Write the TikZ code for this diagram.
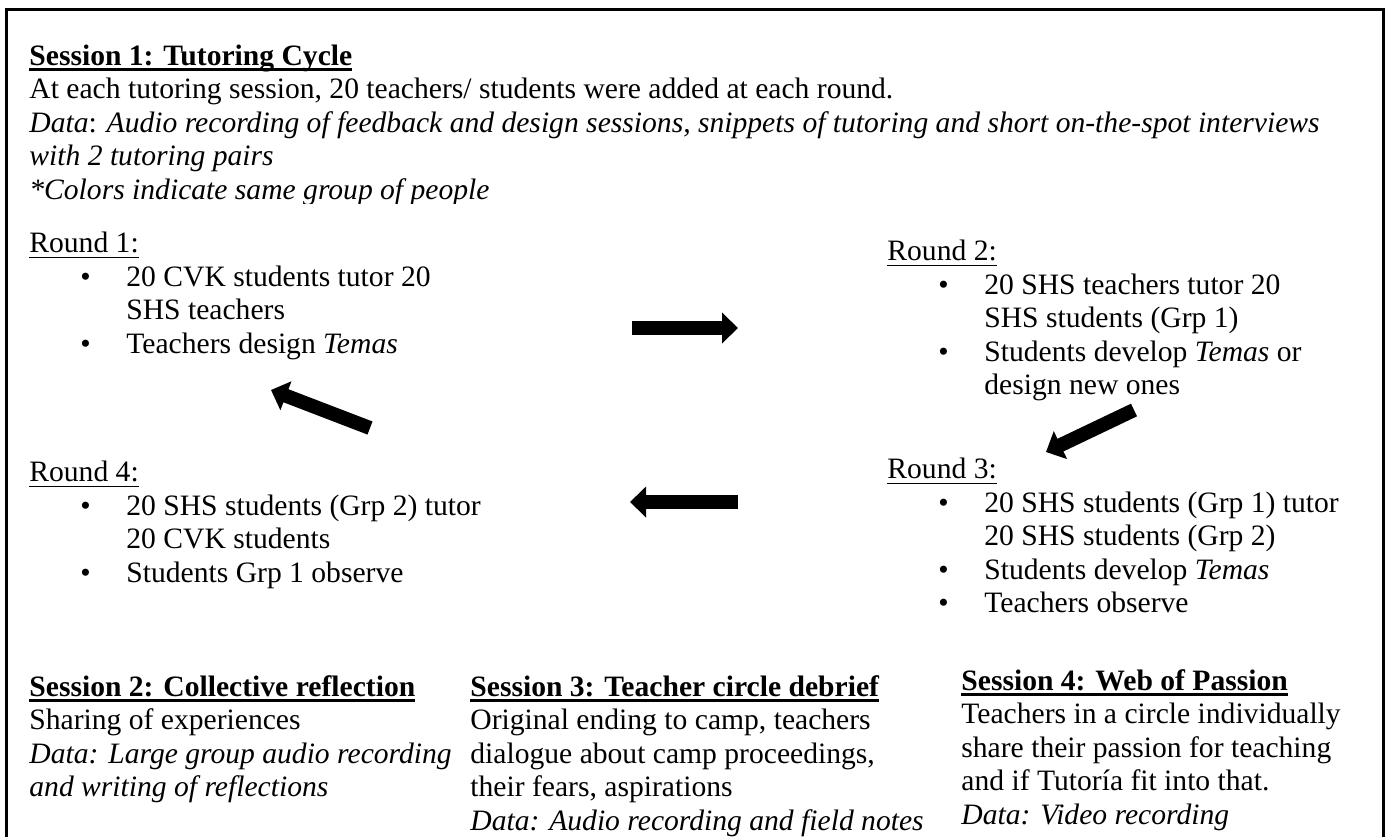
\documentclass[tikz,border=0pt]{standalone}
\usepackage{fontspec}
\setmainfont{Liberation Serif}
\usetikzlibrary{arrows.meta}
\newsavebox\ulbox
\newcommand\txtsize{\fontsize{14.8pt}{16.75pt}\selectfont}
\newcommand\ulx[2]{\sbox\ulbox{#2}\rlap{\rule[-2.8pt]{\wd\ulbox}{#1}}\usebox\ulbox}
\newcommand\hd[1]{\ulx{1.2pt}{\bfseries #1}}
\tikzset{
  txt/.style={anchor=base west, inner sep=0pt, align=left, font=\txtsize},
  fatarrow/.style={line width=7pt, -{Triangle[length=8pt,width=15pt]}}
}
\begin{document}
\begin{tikzpicture}[x=0.5pt,y=-0.5pt]
    \useasboundingbox (0,0) rectangle (1385,837);
    %Frame
    \draw[line width=1.5pt] (6,837) -- (6,9.5) -- (1383,9.5) -- (1383,837);
    %Session 1 (node sits on its last line)
    \begin{scope}
    \clip (0,0) rectangle (1385,203);
    \node[txt] (s1) at (29,199) {\hd{Session 1: Tutoring Cycle}\\
      At each tutoring session, 20 teachers/ students were added at each round.\\
      \textit{Data}: \textit{Audio recording of feedback and design sessions, snippets of tutoring and short on-the-spot interviews}\\
      \textit{with 2 tutoring pairs}\\
      \textit{*Colors indicate same group of people}};
    \end{scope}
    %Round 1
    \node[txt] (r1) at (29,252) {\ulx{0.5pt}{Round 1:}};
    \node[txt] (r1b1) at (80,286) {\textbullet};
    \node[txt] (r1i1) at (126,319.5) {20 CVK students tutor 20\\SHS teachers};
    \node[txt] (r1b2) at (80,353) {\textbullet};
    \node[txt] (r1i2) at (126,353) {Teachers design \textit{Temas}};
    %Round 2
    \node[txt] (r2) at (887,260) {\ulx{0.5pt}{Round 2:}};
    \node[txt] (r2b1) at (938,294) {\textbullet};
    \node[txt] (r2i1) at (984,327.5) {20 SHS teachers tutor 20\\SHS students (Grp 1)};
    \node[txt] (r2b2) at (938,361) {\textbullet};
    \node[txt] (r2i2) at (984,394.5) {Students develop \textit{Temas} or\\design new ones};
    %Round 3
    \node[txt] (r3) at (887,478) {\ulx{0.5pt}{Round 3:}};
    \node[txt] (r3b1) at (938,512) {\textbullet};
    \node[txt] (r3i1) at (984,545.5) {20 SHS students (Grp 1) tutor\\20 SHS students (Grp 2)};
    \node[txt] (r3b2) at (938,579) {\textbullet};
    \node[txt] (r3i2) at (984,579) {Students develop \textit{Temas}};
    \node[txt] (r3b3) at (938,612.5) {\textbullet};
    \node[txt] (r3i3) at (984,612.5) {Teachers observe};
    %Round 4
    \node[txt] (r4) at (29,481) {\ulx{0.5pt}{Round 4:}};
    \node[txt] (r4b1) at (80,515) {\textbullet};
    \node[txt] (r4i1) at (126,548.5) {20 SHS students (Grp 2) tutor\\20 CVK students};
    \node[txt] (r4b2) at (80,582) {\textbullet};
    \node[txt] (r4i2) at (126,582) {Students Grp 1 observe};
    %Cycle arrows
    \coordinate (a12s) at (632,328);
    \coordinate (a12e) at (738,328);
    \coordinate (a23s) at (1134,410);
    \coordinate (a23e) at (1046,452);
    \coordinate (a34s) at (738,502);
    \coordinate (a34e) at (630,502);
    \coordinate (a41s) at (370,428);
    \coordinate (a41e) at (271,390);
    \draw[fatarrow] (a12s) -- (a12e);
    \draw[fatarrow] (a23s) -- (a23e);
    \draw[fatarrow] (a34s) -- (a34e);
    \draw[fatarrow] (a41s) -- (a41e);
    %Sessions 2 to 4
    \node[txt] (s2) at (29,796.5) {\hd{Session 2: Collective reflection}\\
      Sharing of experiences\\
      \textit{Data: Large group audio recording}\\
      \textit{and writing of reflections}};
    \node[txt] (s3) at (470,830) {\hd{Session 3: Teacher circle debrief}\\
      Original ending to camp, teachers\\
      dialogue about camp proceedings,\\
      their fears, aspirations\\
      \textit{Data: Audio recording and field notes}};
    \node[txt] (s4) at (961,824) {\hd{Session 4: Web of Passion}\\
      Teachers in a circle individually\\
      share their passion for teaching\\
      and if Tutoría fit into that.\\
      \textit{Data: Video recording}};
\end{tikzpicture}
\end{document}
